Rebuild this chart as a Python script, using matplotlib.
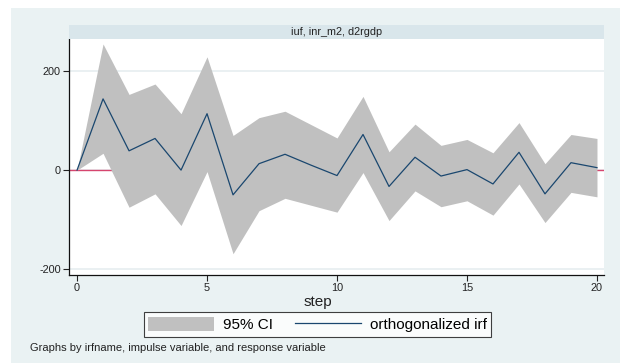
import matplotlib
matplotlib.use("Agg")
import matplotlib.pyplot as plt
from matplotlib.patches import Rectangle, Patch
from matplotlib.lines import Line2D

plt.rcParams['font.family'] = ['Liberation Sans', 'DejaVu Sans']
plt.rcParams['axes.unicode_minus'] = False

# data
steps = list(range(21))
irf = [0, 144, 39, 64, 0, 114, -50, 13, 32, 10, -11, 72, -33, 26, -12, 1, -28, 36, -48, 15, 5]
upper = [0, 255, 153, 174, 114, 229, 70, 106, 119, 92, 65, 149, 37, 93, 50, 62, 35, 96, 13, 72, 64]
lower = [0, 34, -75, -48, -112, -3, -169, -82, -57, -71, -85, -5, -102, -42, -74, -62, -91, -28, -106, -45, -54]
panel_title = "iuf, inr_m2, d2rgdp"
xticks = [0, 5, 10, 15, 20]
yticks = [-200, 0, 200]

W, H = 620, 363
fig = plt.figure(figsize=(W / 100, H / 100), dpi=100)
fig.patch.set_facecolor('white')

# graph region (light blue-grey)
fig.add_artist(Rectangle((11 / W, 0), (W - 11) / W, (H - 8) / H,
                         transform=fig.transFigure, facecolor='#eaf2f3',
                         edgecolor='none', zorder=0))
# subtitle strip
fig.add_artist(Rectangle((69 / W, 1 - 39 / H), (604 - 69) / W, 14 / H,
                         transform=fig.transFigure, facecolor='#d9e6eb',
                         edgecolor='none', zorder=1))
fig.text(336.5 / W, 1 - 32 / H, panel_title, ha='center', va='center',
         fontsize=7.8, color='#222222')

ax = fig.add_axes([69 / W, 1 - 275 / H, (604 - 69) / W, (275 - 39) / H])
ax.set_facecolor('white')
ax.set_xlim(-0.31, 20.27)
ax.set_ylim(-212, 265)

for yv in yticks:
    ax.axhline(yv, color='#e6eef0', lw=1.2, zorder=0)
ax.axhline(0, color='#d6456e', lw=1, zorder=1)
ax.fill_between(steps, lower, upper, color='#c0c0c0', lw=0, zorder=2)
ax.plot(steps, irf, color='#1a476f', lw=0.9, zorder=3)

ax.set_xticks(xticks)
ax.set_yticks(yticks)
ax.tick_params(labelsize=7.8, length=4, width=0.8, color='#222222', labelcolor='#222222', pad=2)
for s in ['top', 'right']:
    ax.spines[s].set_visible(False)
for s in ['left', 'bottom']:
    ax.spines[s].set_color('#111111')
    ax.spines[s].set_linewidth(0.9)

fig.text(318 / W, 1 - 302 / H, 'step', ha='center', va='center', fontsize=11, color='#222222')

handles = [Patch(facecolor='#c0c0c0', edgecolor='none'),
           Line2D([], [], color='#1a476f', lw=0.9)]
leg = fig.legend(handles, ['95% CI', 'orthogonalized irf'], ncol=2,
                 loc='center', bbox_to_anchor=(317.5 / W, 1 - 324.5 / H),
                 fontsize=11, frameon=True, fancybox=False, handlelength=4.3,
                 handleheight=1.0, handletextpad=0.55, columnspacing=1.5,
                 borderpad=0.3, borderaxespad=0)
leg.get_frame().set_edgecolor('#111111')
leg.get_frame().set_linewidth(0.8)

fig.text(30 / W, 1 - 348 / H, 'Graphs by irfname, impulse variable, and response variable',
         ha='left', va='center', fontsize=8, color='#222222')

fig.savefig('out.png', dpi=100)
